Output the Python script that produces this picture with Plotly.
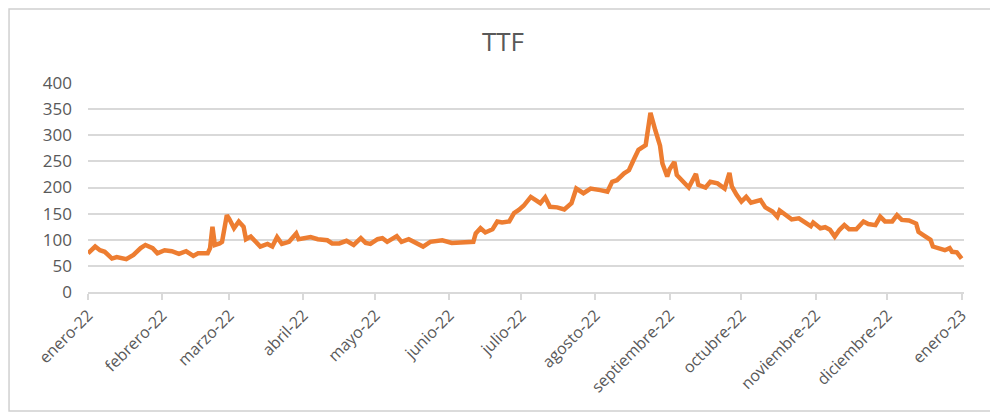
import plotly.graph_objects as go

# ---- data ----
dates = [
    "2022-01-01", "2022-01-04", "2022-01-06", "2022-01-08", "2022-01-11", "2022-01-13",
    "2022-01-17", "2022-01-20", "2022-01-23", "2022-01-25", "2022-01-28", "2022-01-30",
    "2022-02-02", "2022-02-05", "2022-02-08", "2022-02-11", "2022-02-14", "2022-02-16",
    "2022-02-20", "2022-02-21", "2022-02-22", "2022-02-23", "2022-02-25", "2022-02-26",
    "2022-02-28", "2022-03-01", "2022-03-03", "2022-03-05", "2022-03-07", "2022-03-08",
    "2022-03-10", "2022-03-12", "2022-03-14", "2022-03-17", "2022-03-19", "2022-03-21",
    "2022-03-23", "2022-03-26", "2022-03-29", "2022-03-30", "2022-04-04", "2022-04-07",
    "2022-04-11", "2022-04-13", "2022-04-16", "2022-04-19", "2022-04-22", "2022-04-25",
    "2022-04-27", "2022-04-29", "2022-05-02", "2022-05-04", "2022-05-06", "2022-05-10",
    "2022-05-12", "2022-05-15", "2022-05-18", "2022-05-21", "2022-05-24", "2022-05-29",
    "2022-06-02", "2022-06-06", "2022-06-11", "2022-06-12", "2022-06-14", "2022-06-16",
    "2022-06-19", "2022-06-21", "2022-06-23", "2022-06-26", "2022-06-28", "2022-06-30",
    "2022-07-02", "2022-07-05", "2022-07-07", "2022-07-09", "2022-07-11", "2022-07-13",
    "2022-07-16", "2022-07-19", "2022-07-22", "2022-07-24", "2022-07-27", "2022-07-30",
    "2022-08-03", "2022-08-06", "2022-08-08", "2022-08-10", "2022-08-13", "2022-08-15",
    "2022-08-17", "2022-08-19", "2022-08-22", "2022-08-24", "2022-08-26", "2022-08-28",
    "2022-08-29", "2022-08-31", "2022-09-01", "2022-09-03", "2022-09-04", "2022-09-07",
    "2022-09-09", "2022-09-12", "2022-09-13", "2022-09-16", "2022-09-18", "2022-09-21",
    "2022-09-24", "2022-09-26", "2022-09-27", "2022-09-29", "2022-10-01", "2022-10-03",
    "2022-10-05", "2022-10-09", "2022-10-11", "2022-10-14", "2022-10-16", "2022-10-17",
    "2022-10-20", "2022-10-22", "2022-10-25", "2022-10-28", "2022-10-30", "2022-10-31",
    "2022-11-03", "2022-11-05", "2022-11-07", "2022-11-09", "2022-11-11", "2022-11-13",
    "2022-11-15", "2022-11-18", "2022-11-21", "2022-11-23", "2022-11-26", "2022-11-28",
    "2022-11-30", "2022-12-03", "2022-12-05", "2022-12-07", "2022-12-10", "2022-12-13",
    "2022-12-14", "2022-12-16", "2022-12-19", "2022-12-20", "2022-12-23", "2022-12-25",
    "2022-12-27", "2022-12-28", "2022-12-30", "2023-01-01",
]

ttf = [
    74, 87, 80, 77, 64, 67,
    63, 71, 84, 90, 84, 74,
    80, 78, 73, 78, 69, 74,
    74, 84, 125, 90, 93, 96,
    147, 140, 122, 135, 125, 101,
    106, 96, 87, 92, 87, 105,
    92, 96, 112, 101, 105, 101,
    99, 93, 93, 98, 90, 103,
    94, 92, 101, 103, 96, 107,
    96, 101, 93, 87, 96, 99,
    94, 94, 96, 112, 122, 114,
    120, 135, 133, 135, 151, 157,
    165, 182, 176, 170, 181, 163,
    162, 158, 170, 198, 189, 198,
    195, 192, 211, 214, 227, 233,
    253, 272, 281, 343, 310, 280,
    246, 221, 235, 249, 224, 211,
    200, 226, 205, 200, 211, 208,
    198, 228, 202, 186, 173, 182,
    171, 176, 162, 154, 144, 156,
    145, 139, 141, 133, 126, 133,
    122, 124, 119, 106, 119, 128,
    120, 120, 135, 130, 128, 144,
    135, 135, 147, 138, 137, 131,
    115, 109, 100, 87, 82, 80,
    84, 77, 76, 64,
]

tick_dates = [
    "2022-01-01", "2022-02-01", "2022-03-01", "2022-04-01", "2022-05-01",
    "2022-06-01", "2022-07-01", "2022-08-01", "2022-09-01", "2022-10-01",
    "2022-11-01", "2022-12-01", "2023-01-01",
]
tick_labels = [
    "enero-22", "febrero-22", "marzo-22", "abril-22", "mayo-22", "junio-22",
    "julio-22", "agosto-22", "septiembre-22", "octubre-22", "noviembre-22",
    "diciembre-22", "enero-23",
]

title_text = "TTF"

FONT = "Open Sans, Lato, sans-serif"
TXT = "#595959"
GRID = "#D9D9D9"

W, H = 998, 414
ML, MT = 80, 75
PW, PH = 876.4, 209

fig = go.Figure()
fig.add_trace(go.Scatter(
    x=dates, y=ttf, mode="lines",
    line=dict(color="#ED7D31", width=4.5, shape="linear"),
    showlegend=False, hoverinfo="x+y",
))

fig.update_layout(
    width=W, height=H,
    margin=dict(l=ML, r=W - ML - PW, t=MT, b=H - MT - PH, autoexpand=False),
    paper_bgcolor="white", plot_bgcolor="white",
    font=dict(family=FONT, color=TXT, size=14),
    title=dict(text=title_text, x=0.496, xanchor="center", y=1 - 34 / H, yanchor="middle",
               font=dict(family=FONT, size=26, color=TXT)),
    showlegend=False,
)

fig.update_xaxes(
    type="date", automargin=False,
    range=["2022-01-01", "2023-01-02"],
    tickmode="array", tickvals=tick_dates, ticktext=tick_labels,
    tickangle=-45,
    showgrid=False,
    showline=True, linecolor=GRID, linewidth=1.5,
    ticks="outside", ticklen=6, tickcolor=GRID, tickwidth=1.5,
    tickfont=dict(family=FONT, size=16, color=TXT),
    zeroline=False,
)

fig.update_yaxes(
    range=[0, 400], dtick=50, tick0=0, automargin=False,
    showgrid=True, gridcolor=GRID, gridwidth=1.5,
    zeroline=False, showline=False,
    ticks="", ticklabelstandoff=15,
    tickfont=dict(family=FONT, size=17, color=TXT),
)

# chart border (Excel chart area frame)
fig.add_shape(type="rect", xref="paper", yref="paper",
              x0=(1 - ML) / PW, x1=(W + 20 - ML) / PW,
              y0=(MT + PH - 403) / PH, y1=(MT + PH - 1) / PH,
              line=dict(color="#D0D0D0", width=1.5), fillcolor="rgba(0,0,0,0)",
              layer="below")

fig.write_html("out.html")
